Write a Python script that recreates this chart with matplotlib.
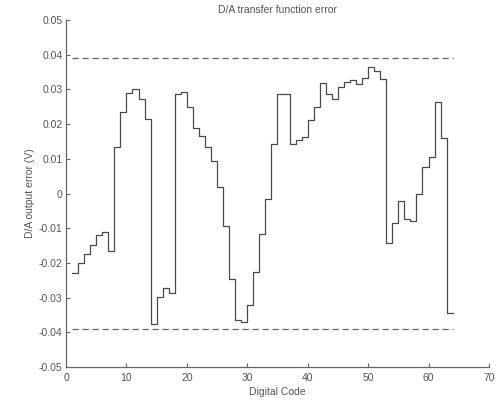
import matplotlib
matplotlib.use("Agg")
import matplotlib.pyplot as plt
import numpy as np

plt.rcParams['font.family'] = ['Liberation Sans', 'DejaVu Sans']

# Digital codes (stairs plotted at 1..64)
codes = list(range(1, 65))
# Error level for each code step (V)
errors = [
    -0.0228, -0.0201, -0.0174, -0.0148, -0.0120, -0.0110, -0.0166, 0.0135,
    0.0236, 0.0289, 0.0301, 0.0271, 0.0214, -0.0377, -0.0299, -0.0273,
    -0.0287, 0.0286, 0.0293, 0.0250, 0.0188, 0.0166, 0.0135, 0.0095,
    0.0020, -0.0093, -0.0246, -0.0365, -0.0370, -0.0321, -0.0225, -0.0117,
    -0.0016, 0.0143, 0.0286, 0.0286, 0.0142, 0.0154, 0.0162, 0.0212,
    0.0250, 0.0319, 0.0287, 0.0271, 0.0306, 0.0320, 0.0327, 0.0316,
    0.0332, 0.0365, 0.0354, 0.0329, -0.0142, -0.0086, -0.0022, -0.0074,
    -0.0078, -0.0001, 0.0077, 0.0106, 0.0263, 0.0161, -0.0345, -0.0345,
]
limit_hi = 0.039
limit_lo = -0.039
limit_x = [1, 64]

xticks = [0, 10, 20, 30, 40, 50, 60, 70]
yticks = [0.05, 0.04, 0.03, 0.02, 0.01, 0.0, -0.01, -0.02, -0.03, -0.04, -0.05]
ytick_labels = ['0.05', '0.04', '0.03', '0.02', '0.01', '0', '-0.01', '-0.02',
                '-0.03', '-0.04', '-0.05']

fig = plt.figure(figsize=(5.02, 4.0), dpi=100)
ax = fig.add_axes([0.1315, 0.0825, 0.8425, 0.8675])

txt = '#555555'
ax.step(codes, errors, where='post', color='#4a4a4a', lw=0.9)
ax.plot(limit_x, [limit_hi, limit_hi], color='#666666', lw=0.9,
        dashes=(5, 3))
ax.plot(limit_x, [limit_lo, limit_lo], color='#666666', lw=0.9,
        dashes=(5, 3))

ax.set_xlim(0, 70)
ax.set_ylim(-0.05, 0.05)
ax.set_xticks(xticks)
ax.set_yticks(yticks)
ax.set_yticklabels(ytick_labels)

for s in ['top', 'right']:
    ax.spines[s].set_visible(False)
for s in ['left', 'bottom']:
    ax.spines[s].set_color('#666666')
    ax.spines[s].set_linewidth(0.9)

ax.tick_params(direction='in', length=3, width=0.8, colors='#666666',
               labelcolor=txt, labelsize=7.5, pad=2.5)
ax.tick_params(axis='x', pad=4)

ax.set_title('D/A transfer function error', fontsize=7.5, color=txt, pad=5)
ax.set_xlabel('Digital Code', fontsize=7.5, color=txt, labelpad=3)
ax.set_ylabel('D/A output error (V)', fontsize=7.5, color=txt, labelpad=3)

fig.savefig('out.png', dpi=100)
